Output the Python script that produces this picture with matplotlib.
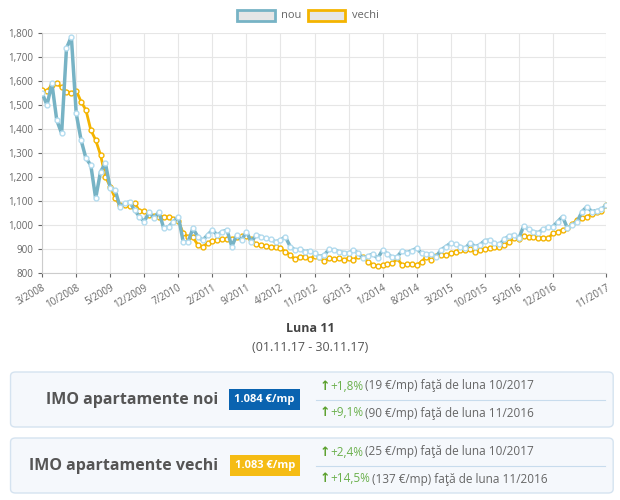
import matplotlib
matplotlib.use("Agg")
import matplotlib.pyplot as plt
from matplotlib.patches import FancyBboxPatch, Rectangle
import numpy as np

plt.rcParams['font.family'] = ['Open Sans', 'DejaVu Sans']

nou = [1549,1500,1590,1437,1382,1736,1785,1465,1354,1278,1250,1111,1222,1257,1153,1146,1076,1090,1097,1062,
       1035,1014,1055,1028,1055,986,993,1014,1035,930,930,986,951,937,958,979,958,972,979,910,
       958,937,972,930,958,951,944,940,930,937,951,910,896,899,889,892,882,868,875,899,
       896,889,885,882,896,882,861,871,879,861,896,879,865,868,892,885,893,903,882,879,
       879,868,896,910,924,919,910,903,926,910,917,935,937,924,919,940,954,958,944,996,
       982,972,968,982,990,993,1014,1035,986,1000,1014,1056,1076,1056,1060,1065,1084]
vechi = [1562,1560,1583,1590,1574,1556,1551,1560,1514,1479,1396,1354,1292,1201,1160,1111,1083,1083,1079,1093,
         1058,1058,1042,1037,1035,1035,1032,1024,1018,965,951,949,917,910,924,935,937,940,940,943,
         949,954,954,940,919,917,914,910,907,903,889,875,857,868,868,857,871,865,850,861,
         857,861,854,861,854,871,865,847,833,829,833,837,840,861,833,837,836,833,847,868,
         854,871,875,875,882,889,896,896,899,889,896,899,903,907,910,917,931,944,940,954,
         951,949,947,947,944,965,972,979,986,1004,1021,1030,1035,1046,1056,1058,1083]
months = []
m, y = 3, 2008
for _ in range(len(nou)):
    months.append(f"{m}/{y}")
    m += 1
    if m > 12:
        m, y = 1, y + 1

C_NOU = '#77b3c5'
C_NOU_M = '#b4dcef'
C_VE = '#f4b400'

fig = plt.figure(figsize=(6.2, 5.0), dpi=100)
ax = fig.add_axes([0.068, 0.454, 0.91, 0.48])
x = np.arange(len(nou))
ax.plot(x, vechi, color=C_VE, lw=2, marker='o', ms=3.5, mfc='white', mec=C_VE, mew=1, zorder=3, label='vechi')
ax.plot(x, nou, color=C_NOU, lw=2.5, marker='o', ms=3.5, mfc='white', mec=C_NOU_M, mew=1, zorder=4, label='nou')
ax.set_xlim(0, len(nou) - 1)
ax.set_ylim(800, 1800)
ax.set_yticks(range(800, 1801, 100))
ax.set_yticklabels([f"{v:,}" for v in range(800, 1801, 100)])
ticks = list(range(0, len(nou) - 8, 7)) + [len(nou) - 1]
ax.set_xticks(ticks)
ax.set_xticklabels([months[i] for i in ticks], rotation=30, ha='right', rotation_mode='anchor')
ax.grid(True, color='#e6e6e6', lw=0.8)
ax.tick_params(labelsize=7, colors='#666666', length=3)
for s in ['top', 'right']:
    ax.spines[s].set_visible(False)
for s in ['left', 'bottom']:
    ax.spines[s].set_color('#cccccc')

# legend
for lx, col, lab in [(0.383, C_NOU, 'nou'), (0.497, C_VE, 'vechi')]:
    fig.patches.append(Rectangle((lx, 0.958), 0.06, 0.022, transform=fig.transFigure,
                                 facecolor='#e6e6e6', edgecolor=col, lw=2))
    fig.text(lx + 0.07, 0.969, lab, fontsize=8, color='#666666', va='center')

fig.text(0.5, 0.336, 'Luna 11', ha='center', fontsize=9, fontweight='bold', color='#444444')
fig.text(0.5, 0.298, '(01.11.17 - 30.11.17)', ha='center', fontsize=9, color='#555555')

def panel(y0, title, price, pcol, l1, l2):
    fig.patches.append(FancyBboxPatch((0.017, y0), 0.972, 0.11, transform=fig.transFigure,
                       boxstyle='round,pad=0,rounding_size=0.008', facecolor='#f5f8fc',
                       edgecolor='#d5e3f0', lw=1))
    fig.text(0.352, y0 + 0.055, title, ha='right', va='center', fontsize=11.5, fontweight='bold', color='#555555')
    fig.text(0.427, y0 + 0.055, price, ha='center', va='center', fontsize=8, fontweight='bold', color='white',
             bbox=dict(boxstyle='square,pad=0.45', facecolor=pcol, edgecolor='none'))
    fig.add_artist(plt.Line2D([0.51, 0.975], [y0 + 0.055, y0 + 0.055], color='#c8dced', lw=0.8))
    for yy, (pct, rest) in [(y0 + 0.082, l1), (y0 + 0.028, l2)]:
        fig.text(0.515, yy, '↑', ha='left', va='center', fontsize=9, color='#5aa02c', fontweight='bold')
        t = fig.text(0.533, yy, pct, ha='left', va='center', fontsize=8.5, color='#6ab04c')
        fig.canvas.draw()
        bb = t.get_window_extent()
        fig.text(bb.x1 / 620 + 0.003, yy, rest, ha='left', va='center', fontsize=8.5, color='#666666')

panel(0.146, 'IMO apartamente noi', '1.084 €/mp', '#0a63b0',
      ('+1,8%', '(19 €/mp) faţă de luna 10/2017'), ('+9,1%', '(90 €/mp) faţă de luna 11/2016'))
panel(0.014, 'IMO apartamente vechi', '1.083 €/mp', '#f5bc14',
      ('+2,4%', '(25 €/mp) faţă de luna 10/2017'), ('+14,5%', '(137 €/mp) faţă de luna 11/2016'))

fig.savefig('out.png', dpi=100, facecolor='white')
